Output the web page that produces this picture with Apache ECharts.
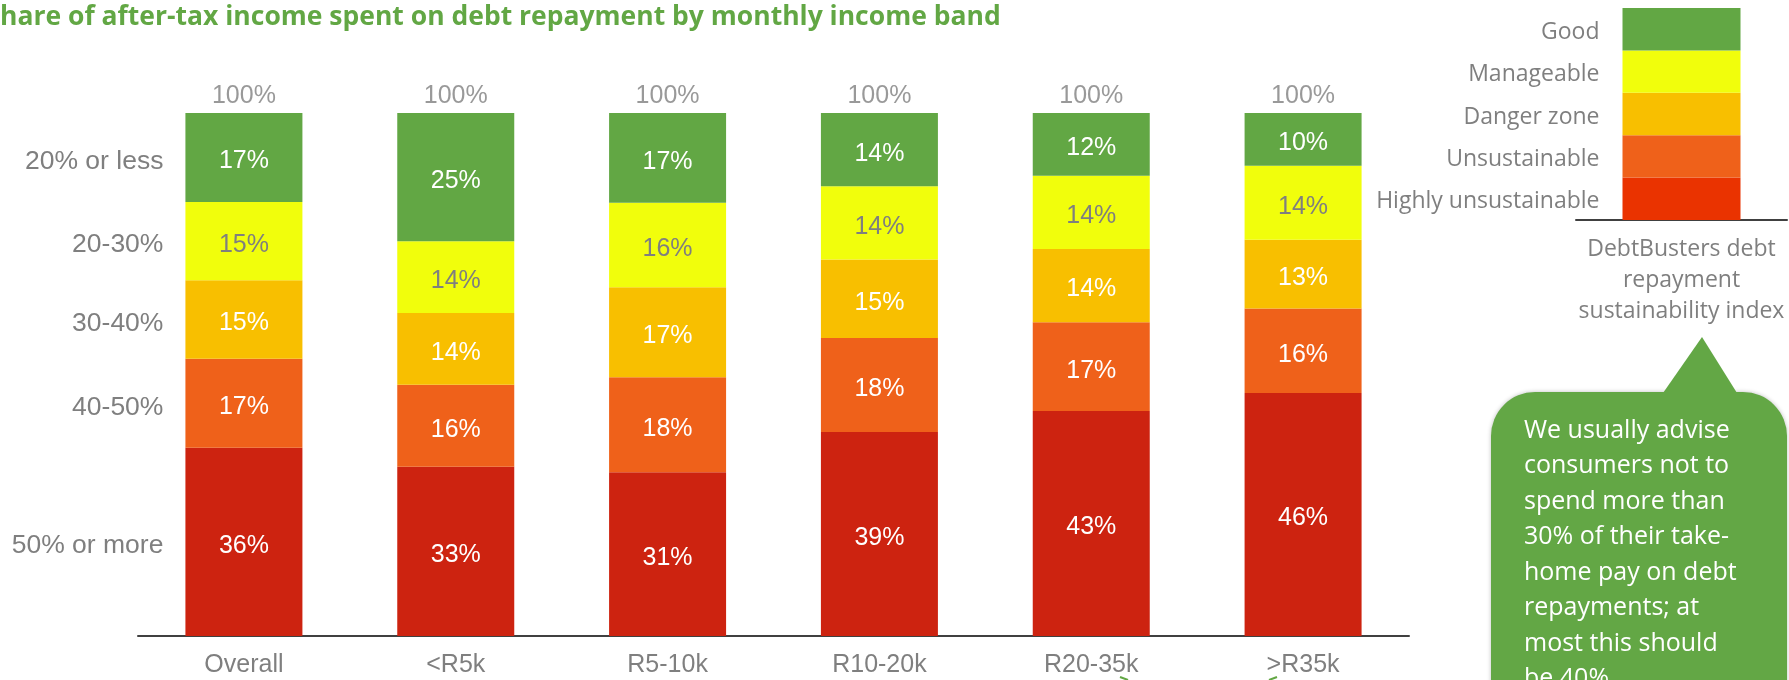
<!DOCTYPE html>
<html>
<head>
<meta charset="utf-8">
<script src="https://cdn.jsdelivr.net/npm/echarts@6/dist/echarts.min.js"></script>
<style>
  html, body { margin: 0; padding: 0; background: #ffffff; }
  #chart { width: 1789px; height: 680px; }
</style>
</head>
<body>
<div id="chart"></div>
<script>
// Monthly income bands
const categories = ['Overall', '<R5k', 'R5-10k', 'R10-20k', 'R20-35k', '>R35k'];

// Share of after-tax income spent on debt repayment, bottom of the stack first
const bandNames = ['50% or more', '40-50%', '30-40%', '20-30%', '20% or less'];
const over50     = [36, 33, 31, 39, 43, 46];
const from40to50 = [17, 16, 18, 18, 17, 16];
const from30to40 = [15, 14, 17, 15, 14, 13];
const from20to30 = [15, 14, 16, 14, 14, 14];
const upTo20     = [17, 25, 17, 14, 12, 10];

// Sustainability index key (equal-height bands), bottom first
const indexLevels = ['Highly unsustainable', 'Unsustainable', 'Danger zone', 'Manageable', 'Good'];
const indexWeights = [1, 1, 1, 1, 1];
const indexCategory = 'DebtBusters debt\nrepayment\nsustainability index';

const titleText = 'hare of after-tax income spent on debt repayment by monthly income band';
const adviceLines = [
  'We usually advise',
  'consumers not to',
  'spend more than',
  '30% of their take-',
  'home pay on debt',
  'repayments; at',
  'most this should',
  'be 40%'
];

const barColors   = ['#cd2310', '#ef611a', '#f8bf00', '#f1fe0c', '#62a744'];
const indexColors = ['#ea3300', '#ef611a', '#f8bf00', '#f1fe0c', '#62a744'];
const labelColors = ['#ffffff', '#ffffff', '#ffffff', '#7f7f7f', '#ffffff'];
const GREY = '#7f7f7f';
const ARIAL = '"Liberation Sans", Arial, sans-serif';
const SANS = '"Open Sans", sans-serif';

const bands = [over50, from40to50, from30to40, from20to30, upTo20];

// Each column is drawn as a 100% stack
const columnTotals = categories.map((_, j) => bands.reduce((s, b) => s + b[j], 0));
const shares = bands.map(b => b.map((v, j) => v / columnTotals[j] * 100));
const shareTotals = categories.map((_, j) => shares.reduce((s, b) => s + b[j], 0));

const series = [];

bands.forEach((b, i) => {
  series.push({
    type: 'bar',
    name: bandNames[i],
    stack: 'share',
    xAxisIndex: 0,
    yAxisIndex: 0,
    barWidth: 117,
    barGap: '-100%',
    itemStyle: { color: barColors[i] },
    label: {
      show: true,
      position: 'inside',
      offset: [0, 4],
      color: labelColors[i],
      fontFamily: ARIAL,
      fontSize: 25,
      formatter: p => b[p.dataIndex] + '%'
    },
    data: shares[i]
  });
});

// Band names beside the first column, carried by an invisible twin stack
bands.forEach((b, i) => {
  series.push({
    type: 'bar',
    name: bandNames[i] + ' ',
    stack: 'names',
    xAxisIndex: 0,
    yAxisIndex: 0,
    barWidth: 117,
    barGap: '-100%',
    silent: true,
    itemStyle: { color: 'rgba(0,0,0,0)' },
    data: shares[i].map((v, j) => ({
      value: v,
      label: {
        show: j === 0,
        position: 'left',
        distance: 22,
        offset: [0, 4],
        color: GREY,
        fontFamily: ARIAL,
        fontSize: 26.5,
        formatter: bandNames[i]
      }
    }))
  });
});

// Column totals above each stack
series.push({
  type: 'scatter',
  xAxisIndex: 0,
  yAxisIndex: 0,
  symbolSize: 0,
  silent: true,
  label: {
    show: true,
    position: 'top',
    distance: 4,
    color: GREY,
    fontFamily: ARIAL,
    fontSize: 25,
    formatter: p => Math.round(p.value) + '%'
  },
  data: shareTotals
});

// Index key bar
indexLevels.forEach((name, i) => {
  series.push({
    type: 'bar',
    name: name,
    stack: 'index',
    xAxisIndex: 1,
    yAxisIndex: 1,
    barWidth: 118,
    itemStyle: { color: indexColors[i] },
    label: {
      show: true,
      position: 'left',
      distance: 23,
      offset: [0, 3],
      color: GREY,
      fontFamily: SANS,
      fontSize: 23,
      formatter: name
    },
    data: [indexWeights[i]]
  });
});

const chart = echarts.init(document.getElementById('chart'), null, { renderer: 'canvas' });

chart.setOption({
  animation: false,
  backgroundColor: '#ffffff',
  grid: [
    { left: 138, top: 113, width: 1271, height: 523 },
    { left: 1576, top: 8, width: 211, height: 212 }
  ],
  xAxis: [
    {
      type: 'category',
      gridIndex: 0,
      data: categories,
      axisLine: { lineStyle: { color: '#404040', width: 2 } },
      axisTick: { show: false },
      axisLabel: { color: GREY, fontFamily: ARIAL, fontSize: 25, margin: 17 }
    },
    {
      type: 'category',
      gridIndex: 1,
      data: [indexCategory],
      axisLine: { lineStyle: { color: '#404040', width: 2 } },
      axisTick: { show: false },
      axisLabel: { color: GREY, fontFamily: SANS, fontSize: 23, lineHeight: 31, margin: 14 }
    }
  ],
  yAxis: [
    { type: 'value', gridIndex: 0, min: 0, max: 100, show: false },
    { type: 'value', gridIndex: 1, min: 0, max: 5, show: false }
  ],
  series: series,
  graphic: [
    {
      type: 'text',
      left: 0,
      top: 4,
      style: {
        text: titleText,
        fill: '#62a744',
        font: 'bold 26.5px "Open Sans", sans-serif'
      }
    },
    {
      type: 'group',
      children: [
        {
          type: 'rect',
          shape: { x: 1491, y: 392, width: 296, height: 320, r: [44, 44, 0, 0] },
          style: { fill: '#63a745', shadowBlur: 4, shadowColor: 'rgba(0,0,0,0.25)' }
        },
        {
          type: 'polygon',
          shape: { points: [[1663, 393], [1702, 337], [1737, 393]] },
          style: { fill: '#63a745' }
        },
        {
          type: 'text',
          x: 1524,
          y: 413,
          style: {
            text: adviceLines.join('\n'),
            fill: '#ffffff',
            font: '25px "Open Sans", sans-serif',
            lineHeight: 35.5,
            verticalAlign: 'top'
          }
        }
      ]
    },
    {
      type: 'polyline',
      shape: { points: [[1120, 677], [1128, 680]] },
      style: { stroke: '#62a744', lineWidth: 2, fill: null }
    },
    {
      type: 'polyline',
      shape: { points: [[1277, 677], [1269, 680]] },
      style: { stroke: '#62a744', lineWidth: 2, fill: null }
    }
  ]
});
</script>
</body>
</html>
